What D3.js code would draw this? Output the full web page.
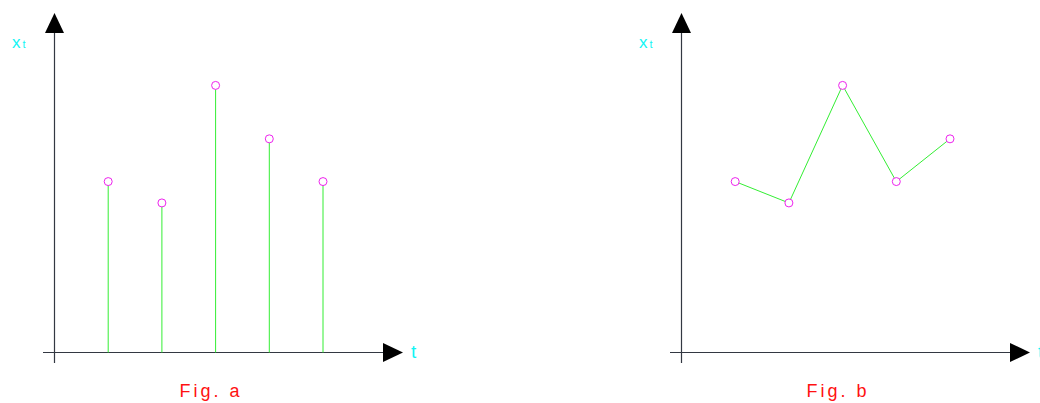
<!DOCTYPE html>
<html>
<head>
<meta charset="utf-8">
<script src="https://cdn.jsdelivr.net/npm/d3@7"></script>
<style>
  body { margin: 0; background: #fff; }
  svg text { font-family: "Liberation Sans", Arial, sans-serif; }
</style>
</head>
<body>
<div id="chart"></div>
<script>
// data
const times = [1, 2, 3, 4, 5];
const valuesA = [8, 7, 12.5, 10, 8];
const valuesB = [8, 7, 12.5, 8, 10];
const figLabels = ["Fig. a", "Fig. b"];

const width = 1040, height = 403;

const svg = d3.select("#chart").append("svg")
    .attr("width", width)
    .attr("height", height);

// one panel per figure
function drawPanel(offsetX, values, label, joined) {
    let g = svg.append("g").attr("transform", `translate(${offsetX},0)`);

    let originX = 54.5, originY = 352.5;

    let x = d3.scaleLinear().domain([0, 5]).range([originX, originX + 5 * 53.7]);
    let y = d3.scaleLinear().domain([0, 15]).range([originY, 32]);

    // axes
    g.append("line")
        .attr("x1", originX).attr("x2", originX)
        .attr("y1", 30).attr("y2", 363)
        .attr("stroke", "#333842").attr("stroke-width", 1.2);
    g.append("line")
        .attr("x1", 43).attr("x2", 388)
        .attr("y1", originY).attr("y2", originY)
        .attr("stroke", "#333842").attr("stroke-width", 1.2);

    // arrow heads
    g.append("path")
        .attr("d", `M${originX},13 L${originX + 9.5},33 L${originX - 9.5},33 Z`)
        .attr("fill", "#000");
    g.append("path")
        .attr("d", `M403,${originY} L383,${originY - 9.5} L383,${originY + 9.5} Z`)
        .attr("fill", "#000");

    // axis labels
    let xt = g.append("text")
        .attr("x", 12).attr("y", 48)
        .attr("fill", "#11f5f5")
        .attr("font-size", 17);
    xt.append("tspan").text("x");
    xt.append("tspan").attr("font-size", 11).attr("dx", 2).text("t");

    g.append("text")
        .attr("x", 411).attr("y", 358)
        .attr("fill", "#11f5f5")
        .attr("font-size", 19)
        .text("t");

    if (joined) {
        g.append("path")
            .datum(times)
            .attr("fill", "none")
            .attr("stroke", "#33ee33")
            .attr("stroke-width", 1)
            .attr("d", d3.line().x(d => x(d)).y((d, i) => y(values[i])));
    } else {
        g.selectAll(".stem")
            .data(times)
            .enter().append("line")
            .attr("class", "stem")
            .attr("x1", d => x(d)).attr("x2", d => x(d))
            .attr("y1", y(0)).attr("y2", (d, i) => y(values[i]))
            .attr("stroke", "#33ee33")
            .attr("stroke-width", 1);
    }

    g.selectAll(".pt")
        .data(times)
        .enter().append("circle")
        .attr("class", "pt")
        .attr("cx", d => x(d))
        .attr("cy", (d, i) => y(values[i]))
        .attr("r", 4)
        .attr("fill", "#fff")
        .attr("stroke", "#ee22ee")
        .attr("stroke-width", 1);

    g.append("text")
        .attr("x", 211).attr("y", 397)
        .attr("text-anchor", "middle")
        .attr("fill", "#ff1111")
        .attr("font-size", 18)
        .attr("letter-spacing", 3)
        .text(label);
}

drawPanel(0, valuesA, figLabels[0], false);
drawPanel(627, valuesB, figLabels[1], true);
</script>
</body>
</html>
